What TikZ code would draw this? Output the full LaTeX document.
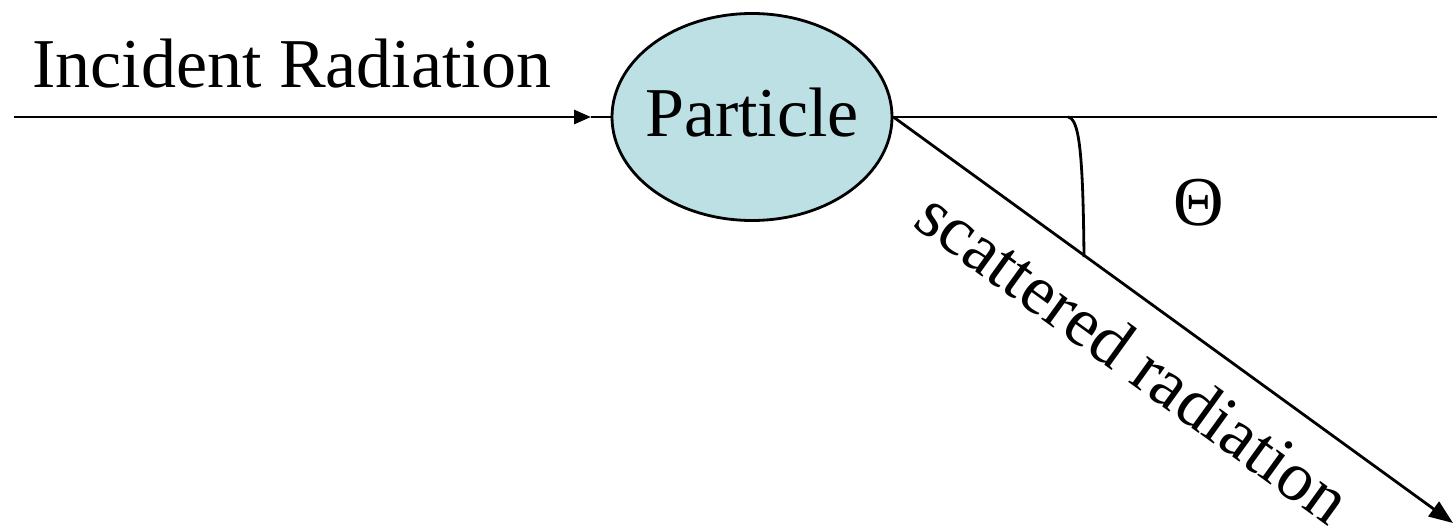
\documentclass[tikz,border=0pt]{standalone}
\usepackage{fontspec}
\setmainfont{Liberation Serif}
\usetikzlibrary{arrows.meta,shapes.geometric}
\definecolor{particlefill}{RGB}{188,224,228}
\tikzset{
  ray/.style={line width=2.8pt},
  bigtext/.style={font=\fontsize{70}{80}\selectfont, inner sep=0pt},
  smalltip/.style={-{Triangle[length=17pt,width=14pt]}},
  largetip/.style={-{Triangle[length=24pt,width=18pt]}}
}
\begin{document}
\begin{tikzpicture}[x=1pt,y=-1pt]
  \useasboundingbox (0,0) rectangle (1456,532);

  % the particle
  \node[ellipse, draw, line width=2.8pt, fill=particlefill,
        minimum width=280pt, minimum height=207pt, inner sep=0pt] (p) at (752,117) {};
  \node[bigtext, anchor=base] (plab) at (752,137) {Particle};

  % incoming beam
  \coordinate (in0) at (14,117);
  \coordinate (intip) at (591,117);
  \node[bigtext, anchor=base west] (inlab) at (32,88) {Incident Radiation};
  \draw[ray, smalltip] (in0) -- (intip);
  \draw[ray] (intip) -- (p.west);

  % undeflected direction
  \coordinate (hend) at (1437,117);
  \draw[ray] (p.east) -- (hend);

  % scattered beam
  \coordinate (send) at (1453,523);
  \draw[ray, largetip] (p.east) -- (send);
  \node[bigtext, anchor=base, rotate=-35.9] (slab) at (1120,376) {scattered radiation};

  % scattering angle
  \coordinate (a1) at (1068,117);
  \coordinate (a2) at (1084,257);
  \draw[ray] (a1) .. controls (1079,119) and (1083,150) .. (a2);
  \node[bigtext] (theta) at (1199,203) {Θ};
\end{tikzpicture}
\end{document}
